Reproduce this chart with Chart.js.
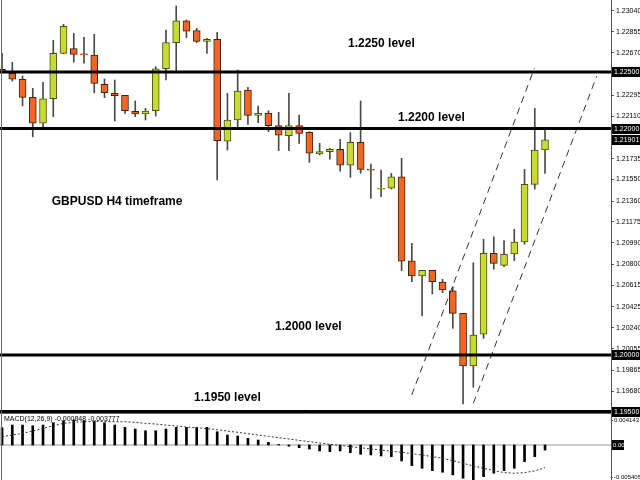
<!DOCTYPE html>
<html>
<head>
<meta charset="utf-8">
<script src="https://cdn.jsdelivr.net/npm/chart.js@4"></script>
<style>
  body { margin: 0; background: #fff; }
  #wrap { position: relative; width: 640px; height: 480px; overflow: hidden; }
  #main { position: absolute; left: 0; top: 0; }
  #macd { position: absolute; left: 0; top: 414px; }
</style>
</head>
<body>
<div id="wrap">
  <canvas id="main" width="640" height="420"></canvas>
  <canvas id="macd" width="640" height="66"></canvas>
</div>
<script>
// GBPUSD H4 candles
var opens  = [1.22524,1.22489,1.22436,1.22276,1.22047,1.22264,1.22665,1.22706,1.22660,1.22650,
              1.22391,1.22312,1.22294,1.22153,1.22129,1.22158,1.22529,1.22759,1.22953,1.22865,
              1.22771,1.22789,1.21890,1.22076,1.22341,1.22117,1.22138,1.22026,1.21937,1.22026,
              1.21967,1.21776,1.21796,1.21817,1.21676,1.21879,1.21642,1.21464,1.21473,1.21575,
              1.20833,1.20698,1.20748,1.20645,1.20568,1.20368,1.19903,1.20185,1.20898,1.20792,
              1.20892,1.20998,1.21508,1.21811];
var highs  = [1.22665,1.22586,1.22465,1.22356,1.22409,1.22780,1.22921,1.22842,1.22807,1.22833,
              1.22438,1.22429,1.22294,1.22244,1.22179,1.22547,1.22871,1.23083,1.22959,1.22886,
              1.22798,1.22851,1.22312,1.22518,1.22365,1.22200,1.22158,1.22144,1.22312,1.22120,
              1.21973,1.21870,1.21826,1.21905,1.21964,1.22244,1.21687,1.21634,1.21605,1.21738,
              1.20987,1.20748,1.20748,1.20669,1.20603,1.20368,1.20815,1.21022,1.21045,1.21010,
              1.21110,1.21640,1.22179,1.22000];
var lows   = [1.22503,1.22420,1.22200,1.21928,1.22008,1.22105,1.22660,1.22586,1.22577,1.22317,
              1.22273,1.22067,1.22135,1.22105,1.22076,1.22111,1.22429,1.22506,1.22803,1.22759,
              1.22665,1.21546,1.21811,1.22017,1.22038,1.22052,1.21973,1.21805,1.21805,1.21870,
              1.21702,1.21767,1.21729,1.21625,1.21570,1.21605,1.21384,1.21398,1.21466,1.20745,
              1.20648,1.20347,1.20539,1.20550,1.20236,1.19567,1.19715,1.20147,1.20757,1.20780,
              1.20833,1.20978,1.21466,1.21605];
var closes = [1.22506,1.22436,1.22276,1.22047,1.22264,1.22665,1.22904,1.22656,1.22650,1.22400,
              1.22317,1.22291,1.22158,1.22129,1.22155,1.22529,1.22759,1.22953,1.22860,1.22771,
              1.22789,1.21893,1.22076,1.22332,1.22117,1.22135,1.22026,1.21941,1.22026,1.21958,
              1.21782,1.21796,1.21817,1.21676,1.21879,1.21640,1.21632,1.21473,1.21575,1.20830,
              1.20698,1.20748,1.20648,1.20574,1.20368,1.19903,1.20177,1.20898,1.20810,1.20890,
              1.20998,1.21508,1.21811,1.21901];

// MACD(12,26,9): main line (histogram) and signal
var macdMain = [0.00289,0.00334,0.00334,0.00323,0.00334,0.00373,0.00406,0.00418,0.00406,0.00400,
                0.00373,0.00334,0.00295,0.00267,0.00239,0.00239,0.00267,0.00295,0.00295,0.00295,
                0.00295,0.00222,0.00167,0.00150,0.00111,0.00083,0.00045,0.00008,-0.00020,-0.00045,
                -0.00067,-0.00100,-0.00111,-0.00100,-0.00128,-0.00156,-0.00167,-0.00184,-0.00195,-0.00267,
                -0.00345,-0.00390,-0.00429,-0.00456,-0.00500,-0.00556,-0.00585,-0.00529,-0.00473,-0.00429,
                -0.00390,-0.00278,-0.00195,-0.00085];
var macdSignal = [0.00139,0.00167,0.00195,0.00234,0.00278,0.00323,0.00362,0.00379,0.00390,0.00395,
                  0.00395,0.00390,0.00390,0.00379,0.00362,0.00351,0.00334,0.00317,0.00300,0.00290,
                  0.00273,0.00256,0.00234,0.00212,0.00189,0.00167,0.00145,0.00122,0.00100,0.00078,
                  0.00056,0.00033,0.00011,-0.00006,-0.00028,-0.00045,-0.00067,-0.00084,-0.00106,-0.00122,
                  -0.00145,-0.00167,-0.00195,-0.00223,-0.00262,-0.00306,-0.00351,-0.00390,-0.00429,-0.00462,
                  -0.00473,-0.00462,-0.00434,-0.00378];

var priceTicks = [1.23040,1.22855,1.22670,1.22295,1.22110,1.21735,1.21550,1.21360,1.21175,1.20990,
                  1.20800,1.20615,1.20425,1.20240,1.20055,1.19865,1.19680];
var priceBoxes = [1.22500,1.22000,1.21901,1.20000,1.19500];
var levels = [1.2250,1.2200,1.2000,1.1950];
var macdTicks = [0.004143,-0.005405];
var macdText = 'MACD(12,26,9) -0.000848 -0.003777';

// channel lines: [index, price] pairs
var channelUpper = [[39.99,1.19647],[51.96,1.22533]];
var channelLower = [[46.00,1.19573],[58.05,1.22465]];

// text notes: [text, index, price]
var notes = [
  ['1.2250 level', 33.77, 1.22747],
  ['1.2200 level', 38.65, 1.22094],
  ['GBPUSD H4 timeframe', 4.85, 1.21352],
  ['1.2000 level', 26.64, 1.20247],
  ['1.1950 level', 18.74, 1.19620]
];

var X_MIN = -0.2, X_MAX = 59.44;
var UP = '#c8db34', DOWN = '#f26522';

var bodies = [], wicks = [], bodyFill = [], bodyLine = [];
for (var i = 0; i < opens.length; i++) {
  bodies.push({x: i, y: [opens[i], closes[i]]});
  wicks.push({x: i, y: [lows[i], highs[i]]});
  var up = closes[i] >= opens[i];
  bodyFill.push(up ? UP : DOWN);
  bodyLine.push(up ? '#4b5012' : '#3a2410');
}

var levelSets = levels.map(function(l) {
  return {type: 'line', data: [{x: X_MIN, y: l}, {x: X_MAX, y: l}], borderColor: '#000',
          borderWidth: 3, pointRadius: 0, order: 0};
});
function chan(p) {
  return {type: 'line', data: p.map(function(q) { return {x: q[0], y: q[1]}; }),
          borderColor: '#333', borderWidth: 1, borderDash: [7, 5], pointRadius: 0, order: 0};
}

// fixed axis width, no extra room for the end labels
function sideFit(s) { s.width = 29; s.paddingTop = 0; s.paddingBottom = 0; }

var mainDeco = {
  id: 'mainDeco',
  afterDraw: function(chart) {
    var c = chart.ctx, a = chart.chartArea, xs = chart.scales.x, ys = chart.scales.y;
    c.save();
    c.strokeStyle = '#666'; c.lineWidth = 1;
    c.beginPath(); c.moveTo(1.5, 0); c.lineTo(1.5, a.bottom); c.stroke();
    c.beginPath(); c.moveTo(0, a.bottom - 0.5); c.lineTo(a.right, a.bottom - 0.5); c.stroke();
    c.fillStyle = '#000';
    c.font = 'bold 12px "Liberation Sans", Arial, sans-serif';
    c.textBaseline = 'middle'; c.textAlign = 'left';
    notes.forEach(function(n) {
      c.fillText(n[0], xs.getPixelForValue(n[1]), ys.getPixelForValue(n[2]));
    });
    c.font = '7px "Liberation Sans", Arial, sans-serif';
    priceBoxes.forEach(function(v) {
      var y = Math.round(ys.getPixelForValue(v));
      c.fillStyle = '#000';
      c.fillRect(a.right + 1, y - 5, 28, 10);
      c.fillStyle = '#fff';
      c.fillText(v.toFixed(5), a.right + 3, y + 0.5);
    });
    c.restore();
  }
};

new Chart(document.getElementById('main'), {
  type: 'bar',
  data: {
    datasets: [
      {data: bodies, backgroundColor: bodyFill, borderColor: bodyLine, borderWidth: 1,
       borderSkipped: false, barThickness: 7, grouped: false, order: 1},
      {data: wicks, backgroundColor: '#4a4a4a', barThickness: 1, grouped: false, order: 2}
    ].concat(levelSets, [chan(channelUpper), chan(channelLower)])
  },
  options: {
    responsive: false, animation: false,
    layout: {padding: {top: 0, left: 0, right: 0, bottom: 6}},
    plugins: {legend: {display: false}, tooltip: {enabled: false}},
    scales: {
      x: {type: 'linear', min: X_MIN, max: X_MAX, offset: false, display: false},
      y: {
        position: 'right', min: 1.19479, max: 1.23136,
        afterBuildTicks: function(s) { s.ticks = priceTicks.map(function(v) { return {value: v}; }); },
        afterFit: sideFit,
        ticks: {font: {size: 7, family: 'Liberation Sans'}, color: '#000', padding: 2,
                autoSkip: false, callback: function(v) { return v.toFixed(5); }},
        grid: {drawOnChartArea: false, tickLength: 3, color: '#555'},
        border: {color: '#555'}
      }
    }
  },
  plugins: [mainDeco]
});

var macdDeco = {
  id: 'macdDeco',
  afterDraw: function(chart) {
    var c = chart.ctx, a = chart.chartArea, ys = chart.scales.y;
    c.save();
    c.strokeStyle = '#666'; c.lineWidth = 1;
    c.beginPath(); c.moveTo(1.5, 0); c.lineTo(1.5, a.bottom); c.stroke();
    c.font = '7px "Liberation Sans", Arial, sans-serif';
    c.textBaseline = 'middle'; c.textAlign = 'left';
    c.fillStyle = '#000';
    c.fillText(macdText, 4, 5);
    var y = Math.round(ys.getPixelForValue(0));
    c.fillRect(a.right + 1, y - 5, 12, 10);
    c.fillStyle = '#fff';
    c.font = '6px "Liberation Sans", Arial, sans-serif';
    c.fillText('0.00', a.right + 2, y + 0.5);
    c.restore();
  }
};

new Chart(document.getElementById('macd'), {
  type: 'bar',
  data: {
    datasets: [
      {type: 'line', data: macdSignal.map(function(v, i) { return {x: i, y: v}; }),
       borderColor: '#333', borderWidth: 1, borderDash: [2, 2], pointRadius: 0, order: 0},
      {type: 'line', data: [{x: X_MIN, y: 0}, {x: X_MAX, y: 0}], borderColor: '#999',
       borderWidth: 1, pointRadius: 0, order: 2},
      {data: macdMain.map(function(v, i) { return {x: i, y: v}; }), backgroundColor: '#000',
       barThickness: 2, grouped: false, order: 1}
    ]
  },
  options: {
    responsive: false, animation: false,
    layout: {padding: 0},
    plugins: {legend: {display: false}, tooltip: {enabled: false}},
    scales: {
      x: {type: 'linear', min: X_MIN, max: X_MAX, offset: false, display: false},
      y: {
        position: 'right', min: -0.00586, max: 0.00519,
        afterBuildTicks: function(s) { s.ticks = macdTicks.map(function(v) { return {value: v}; }); },
        afterFit: sideFit,
        ticks: {font: {size: 6, family: 'Liberation Sans'}, color: '#000', padding: 1,
                autoSkip: false, callback: function(v) { return v.toFixed(6); }},
        grid: {drawOnChartArea: false, tickLength: 2, color: '#555'},
        border: {color: '#555'}
      }
    }
  },
  plugins: [macdDeco]
});
</script>
</body>
</html>
